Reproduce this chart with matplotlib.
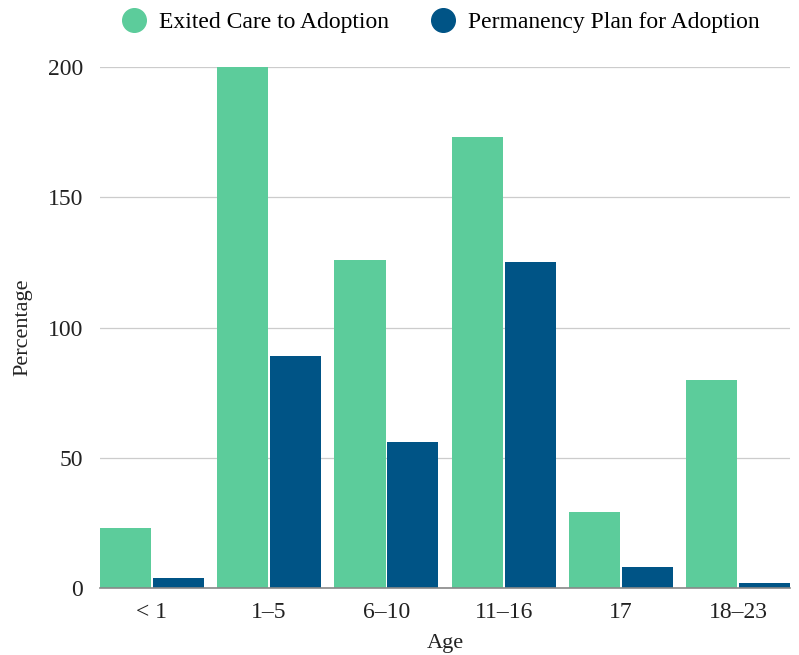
import matplotlib.pyplot as plt
import numpy as np

# Values
ages = ["< 1", "1–5", "6–10", "11–16", "17", "18–23"]
exited_care = [23, 200, 126, 173, 29, 80]
permanency_plan = [4, 89, 56, 125, 8, 2]

green = "#5ccc9b"
blue = "#005486"

plt.rcParams["font.family"] = ["Liberation Serif", "DejaVu Serif"]

fig = plt.figure(figsize=(7.99, 6.55), dpi=100)
ax = fig.add_axes([0.125, 0.1023, 0.864, 0.7954])

x = np.arange(len(ages))
w = 0.435
ax.bar(x - 0.225, exited_care, width=w, color=green, label="Exited Care to Adoption", zorder=3)
ax.bar(x + 0.225, permanency_plan, width=w, color=blue, label="Permanency Plan for Adoption", zorder=3)

ax.set_xlim(-0.4425, len(ages) - 1 + 0.4425)
ax.set_ylim(0, 200)
ax.set_yticks([0, 50, 100, 150, 200])
ax.set_xticks(x)
ax.set_xticklabels(ages)
ax.tick_params(axis="both", length=0, labelsize=17, colors="#222222")
ax.tick_params(axis="x", pad=10)
ax.tick_params(axis="y", pad=12)
ax.grid(axis="y", color="#cccccc", linewidth=0.9, zorder=0)

for s in ["top", "right", "left"]:
    ax.spines[s].set_visible(False)
ax.spines["bottom"].set_color("#888888")
ax.spines["bottom"].set_linewidth(1.2)
ax.spines["bottom"].set_zorder(4)

ax.set_xlabel("Age", fontsize=16, color="#222222", labelpad=8)
ax.set_ylabel("Percentage", fontsize=16, color="#222222", labelpad=11)

handles = [
    plt.Line2D([], [], marker="o", linestyle="none", markersize=17, color=green),
    plt.Line2D([], [], marker="o", linestyle="none", markersize=17, color=blue),
]
fig.legend(handles, ["Exited Care to Adoption", "Permanency Plan for Adoption"],
           loc="center", bbox_to_anchor=(0.55, 0.966), ncol=2, frameon=False,
           fontsize=17, handletextpad=0.45, columnspacing=1.7, handlelength=1.2)

fig.savefig("out.png", dpi=100)
